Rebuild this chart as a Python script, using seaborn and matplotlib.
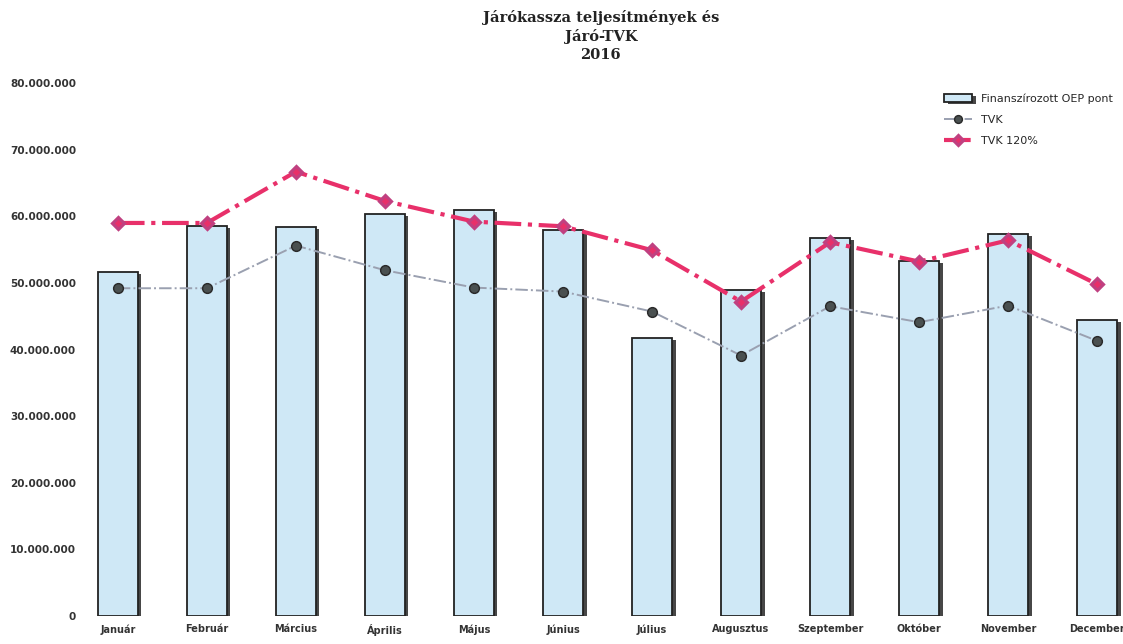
import seaborn as sns
import matplotlib.pyplot as plt
import matplotlib.ticker as ticker
import matplotlib.patheffects as pe
import pandas as pd

months = ["Január", "Február", "Március", "Április", "Május", "Június",
          "Július", "Augusztus", "Szeptember", "Október", "November", "December"]
oep_pont = [51.7, 58.6, 58.4, 60.4, 60.9, 58.0, 41.8, 48.9, 56.7, 53.3, 57.3, 44.5]
tvk = [49.2, 49.2, 55.6, 51.9, 49.3, 48.7, 45.7, 39.1, 46.5, 44.1, 46.6, 41.3]
tvk120 = [59.0, 59.0, 66.7, 62.3, 59.2, 58.5, 54.9, 47.2, 56.1, 53.2, 56.4, 49.8]

df = pd.DataFrame({
    "Hónap": months,
    "OEP": [v * 1e6 for v in oep_pont],
    "TVK": [v * 1e6 for v in tvk],
    "TVK120": [v * 1e6 for v in tvk120],
})

sns.set_style("white")
fig = plt.figure(figsize=(11.23, 6.44), dpi=100)
ax = fig.add_axes([0.08, 0.0435, 0.92, 0.8275])

sns.barplot(data=df, x="Hónap", y="OEP", color="#cfe8f6", edgecolor="#222222",
            linewidth=1.3, width=0.45, saturation=1, ax=ax,
            label="Finanszírozott OEP pont")
for bar in ax.patches:
    bar.set_path_effects([pe.SimplePatchShadow(offset=(2.5, -1.5), shadow_rgbFace="#333333", alpha=0.9),
                          pe.Normal()])

sns.pointplot(data=df, x="Hónap", y="TVK", color="#9aa0b0", linestyles="-.",
              markers="o", markersize=7, linewidth=1.4, ax=ax, label="TVK",
              markerfacecolor="#4a5050", markeredgecolor="#2a2a2a")
sns.pointplot(data=df, x="Hónap", y="TVK120", color="#e8306a", linestyles="-.",
              markers="D", markersize=6, linewidth=3, ax=ax, label="TVK 120%",
              markeredgecolor="#c04080")

ax.set_ylim(0, 80e6)
ax.set_xlim(-0.315, 11.29)
ax.yaxis.set_major_locator(ticker.MultipleLocator(10e6))
ax.yaxis.set_major_formatter(ticker.FuncFormatter(lambda v, p: f"{int(v):,}".replace(",", ".")))
ax.set_xlabel("")
ax.set_ylabel("")
for s in ax.spines.values():
    s.set_visible(False)
ax.tick_params(axis="y", labelsize=7.5, pad=10, length=0)
ax.tick_params(axis="x", labelsize=7, pad=6, length=0)
for lbl in ax.get_yticklabels() + ax.get_xticklabels():
    lbl.set_fontweight("bold")
    lbl.set_color("#333333")

fig.suptitle("Járókassza teljesítmények és\nJáró-TVK\n2016", y=0.985,
             fontsize=10.5, fontweight="bold", family="DejaVu Serif", linespacing=1.35,
             x=0.535, color="#222222")

handles, labels = ax.get_legend_handles_labels()
order = [labels.index(l) for l in ["Finanszírozott OEP pont", "TVK", "TVK 120%"]]
ax.legend([handles[i] for i in order], [labels[i] for i in order],
          loc="upper right", bbox_to_anchor=(1.0, 1.0), frameon=False, fontsize=8,
          handlelength=2.5, labelspacing=1.0, markerscale=0.8)

fig.savefig("out.png", dpi=100)
